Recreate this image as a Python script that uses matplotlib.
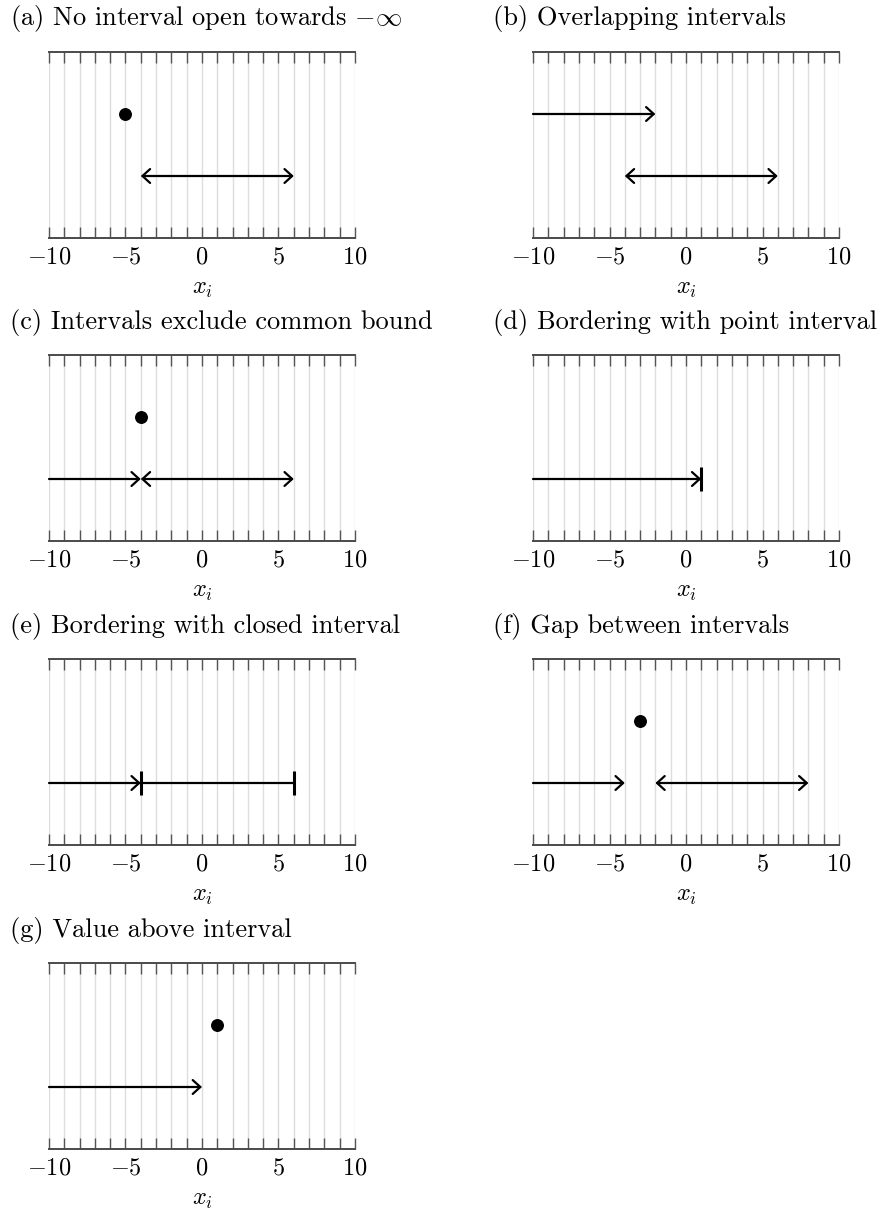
import matplotlib
matplotlib.use("Agg")
import matplotlib.pyplot as plt
from matplotlib.patches import ArrowStyle
from matplotlib.ticker import FixedLocator, FixedFormatter

plt.rcParams['mathtext.fontset'] = 'cm'
plt.rcParams['font.family'] = ['cmr10', 'DejaVu Serif']
plt.rcParams['axes.unicode_minus'] = False

# ---------------- data ----------------
titles = [
    r"(a) No interval open towards $-\infty$",
    "(b) Overlapping intervals",
    "(c) Intervals exclude common bound",
    "(d) Bordering with point interval",
    "(e) Bordering with closed interval",
    "(f) Gap between intervals",
    "(g) Value above interval",
]
# observed value (dot) per panel, None if absent
point_x = [-5, None, -4, None, None, -3, 1]
point_y = [2, None, 2, None, None, 2, 2]
# intervals per panel: (start, end, level, arrowstyle)
intervals = [
    [(-4, 6, 1, '<->')],
    [(-10, -2, 2, '->'), (-4, 6, 1, '<->')],
    [(-10, -4, 1, '->'), (-4, 6, 1, '<->')],
    [(-10, 1, 1, '->')],
    [(-10, -4, 1, '->'), (-4, 6, 1, '-')],
    [(-10, -4, 1, '->'), (-2, 8, 1, '<->')],
    [(-10, 0, 1, '->')],
]
# closed bounds drawn as bars: (x, level)
bars = [
    [],
    [],
    [],
    [(1, 1)],
    [(-4, 1), (6, 1)],
    [],
    [],
]
major_ticks = [-10, -5, 0, 5, 10]
major_labels = [r"$-10$", r"$-5$", r"$0$", r"$5$", r"$10$"]
minor_ticks = list(range(-10, 11))
x_range = (-10, 10)
y_range = (0, 3)

# ---------------- layout ----------------
W, H = 881, 1209
fig = plt.figure(figsize=(W / 100, H / 100), dpi=100)
col_left = [49, 533]
col_width = 306
row_top = [52, 355, 659, 963]
ax_h = 186
title_dx = [10, 493]

grid_c = '#dddddd'
spine_c = '#4a4a4a'
fs = 17.5
title_fs = 19

for i, title in enumerate(titles):
    r, c = divmod(i, 2)
    l = col_left[c] / W
    b = 1 - (row_top[r] + ax_h) / H
    ax = fig.add_axes([l, b, col_width / W, ax_h / H])
    ax.set_xlim(*x_range)
    ax.set_ylim(*y_range)
    ax.xaxis.set_major_locator(FixedLocator(major_ticks))
    ax.xaxis.set_major_formatter(FixedFormatter(major_labels))
    ax.xaxis.set_minor_locator(FixedLocator(minor_ticks))
    ax.set_yticks([])
    for s in ['left', 'right']:
        ax.spines[s].set_visible(False)
    for s in ['top', 'bottom']:
        ax.spines[s].set_color(spine_c)
        ax.spines[s].set_linewidth(1.4)
    ax.tick_params(axis='x', which='both', direction='in', top=True, bottom=True,
                   length=8, width=1.0, color='#555555', labelsize=fs, pad=6)
    ax.grid(True, which='both', axis='x', color=grid_c, linewidth=1.0, zorder=0)
    ax.set_axisbelow(True)
    ax.set_xlabel(r"$x_i$", fontsize=fs, labelpad=7)

    for (s0, s1, lev, style) in intervals[i]:
        if style == '-':
            ax.plot([s0, s1], [lev, lev], color='black', lw=1.6, solid_capstyle='butt', zorder=3)
        else:
            ax.annotate('', xy=(s1, lev), xytext=(s0, lev),
                        arrowprops=dict(arrowstyle=ArrowStyle(style, head_length=0.55, head_width=0.5),
                                        color='black', lw=1.6, shrinkA=0, shrinkB=0,
                                        mutation_scale=10), zorder=3)
    for (bx, by) in bars[i]:
        ax.plot([bx], [by], marker='|', markersize=17, markeredgewidth=2.2, color='black', zorder=4)
    if point_x[i] is not None:
        ax.plot([point_x[i]], [point_y[i]], 'o', color='black', markersize=8.3, zorder=4)

    fig.text(title_dx[c] / W, 1 - (row_top[r] - 33) / H, title, fontsize=title_fs,
             ha='left', va='center')

fig.savefig("out.png", dpi=100)
